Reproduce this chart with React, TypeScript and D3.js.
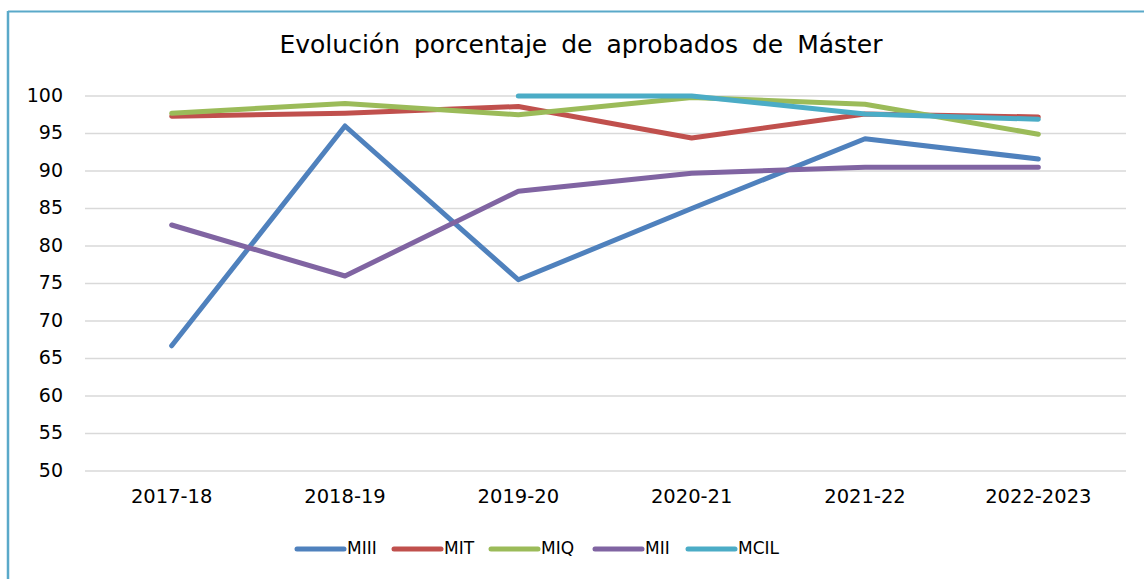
import * as d3 from 'd3';

const categories = ['2017-18', '2018-19', '2019-20', '2020-21', '2021-22', '2022-2023'];
const seriesNames = ['MIII', 'MIT', 'MIQ', 'MII', 'MCIL'];
const miii = [66.7, 96.0, 75.5, 85.0, 94.3, 91.6];
const mit = [97.3, 97.7, 98.6, 94.4, 97.6, 97.2];
const miq = [97.7, 99.0, 97.5, 99.8, 98.9, 94.9];
const mii = [82.8, 76.0, 87.3, 89.7, 90.5, 90.5];
const mcil: (number | null)[] = [null, null, 100, 100, 97.6, 96.9];
const yTicks = [50, 55, 60, 65, 70, 75, 80, 85, 90, 95, 100];
const colors = ['#4f81bd', '#c0504d', '#9bbb59', '#8064a2', '#4bacc6'];

const W = 1144;
const H = 579;
const font = '"DejaVu Sans", sans-serif';

export default function App() {
  const allSeries = [miii, mit, miq, mii, mcil];

  const x = d3.scaleBand<string>().domain(categories).range([85, 1125]);
  const y = d3.scaleLinear().domain([50, 100]).range([471, 96]);

  const line = d3
    .line<number | null>()
    .defined((d) => d != null)
    .x((_, i) => (x(categories[i]) || 0) + x.bandwidth() / 2)
    .y((d) => y(d as number));

  // legend layout
  const legendX = [297, 394, 491, 595, 688];
  const legendY = 549;

  return (
    <div style={{ position: 'absolute', left: 0, top: 0 }}>
      <svg width={W} height={H} style={{ display: 'block', background: '#fff' }}>
        {/* frame */}
        <line x1={8} x2={W} y1={11.5} y2={11.5} stroke="#5aa9c9" strokeWidth={2} />
        <line x1={8} x2={8} y1={11} y2={H} stroke="#5aa9c9" strokeWidth={2.5} />

        <text
          x={581}
          y={53}
          textAnchor="middle"
          fontFamily={font}
          fontSize={25}
          wordSpacing={6}
          fill="#000"
        >
          Evolución porcentaje de aprobados de Máster
        </text>

        {yTicks.map((t) => (
          <g key={t}>
            <line x1={85} x2={1126} y1={y(t)} y2={y(t)} stroke="#d9d9d9" strokeWidth={1.5} />
            <text
              x={63}
              y={y(t)}
              textAnchor="end"
              dominantBaseline="middle"
              fontFamily={font}
              fontSize={19}
              fill="#000"
            >
              {t}
            </text>
          </g>
        ))}

        {categories.map((c) => (
          <text
            key={c}
            x={(x(c) || 0) + x.bandwidth() / 2}
            y={497}
            textAnchor="middle"
            dominantBaseline="middle"
            fontFamily={font}
            fontSize={19.5}
            fill="#000"
          >
            {c}
          </text>
        ))}

        {allSeries.map((s, i) => (
          <path
            key={seriesNames[i]}
            d={line(s) || ''}
            fill="none"
            stroke={colors[i]}
            strokeWidth={5}
            strokeLinecap="round"
            strokeLinejoin="round"
          />
        ))}

        {seriesNames.map((n, i) => (
          <g key={n}>
            <line
              x1={legendX[i]}
              x2={legendX[i] + 47}
              y1={legendY}
              y2={legendY}
              stroke={colors[i]}
              strokeWidth={5}
              strokeLinecap="round"
            />
            <text
              x={legendX[i] + 50}
              y={legendY}
              dominantBaseline="middle"
              fontFamily={font}
              fontSize={17}
              fill="#000"
            >
              {n}
            </text>
          </g>
        ))}
      </svg>
    </div>
  );
}
